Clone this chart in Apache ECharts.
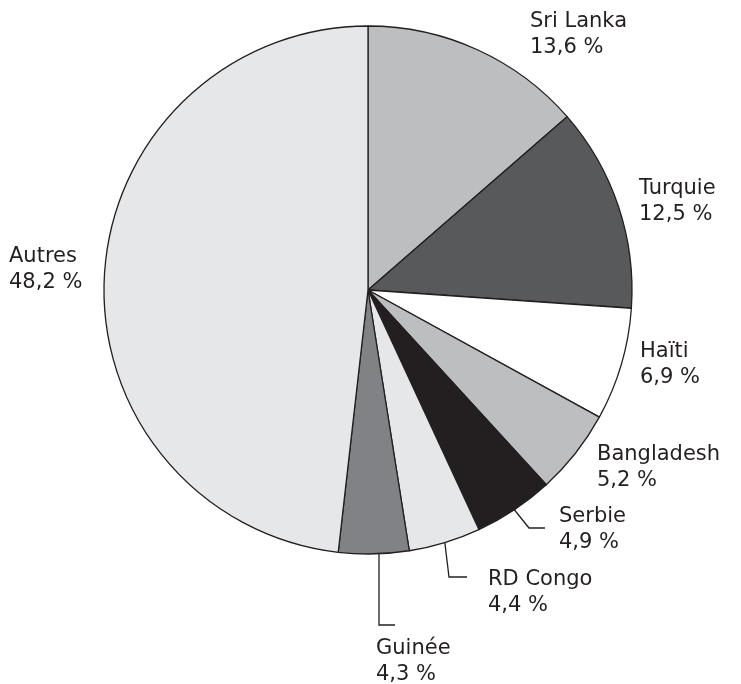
<!DOCTYPE html>
<html>
<head>
<meta charset="utf-8">
<script src="https://cdn.jsdelivr.net/npm/echarts@6/dist/echarts.min.js"></script>
<style>
html,body{margin:0;padding:0;background:#fff;}
#chart{width:741px;height:684px;}
</style>
</head>
<body>
<div id="chart"></div>
<script>
var categories = ['Sri Lanka', 'Turquie', 'Haïti', 'Bangladesh', 'Serbie', 'RD Congo', 'Guinée', 'Autres'];
var shares = [13.6, 12.5, 6.9, 5.2, 4.9, 4.4, 4.3, 48.2];
var sliceColors = ['#bcbec0', '#58595b', '#ffffff', '#bcbec0', '#231f20', '#e6e7e8', '#808285', '#e6e7e8'];

// label placement (layout only): [left x, top y, elbow, line end]
var labelPlace = [
  {x: 530, y: 9},
  {x: 639, y: 176},
  {x: 640, y: 339},
  {x: 597, y: 442},
  {x: 559, y: 504, elbow: [529, 528], end: [545, 528]},
  {x: 488, y: 567, elbow: [449, 577], end: [467, 577]},
  {x: 376, y: 636, elbow: [379, 625], end: [395, 625], startX: 379},
  {x: 9, y: 244}
];

var data = categories.map(function (c, i) {
  return {name: c, value: shares[i], itemStyle: {color: sliceColors[i]}};
});

var chart = echarts.init(document.getElementById('chart'), null, {renderer: 'canvas'});
chart.setOption({
  animation: false,
  backgroundColor: '#ffffff',
  series: [{
    type: 'pie',
    center: [368, 290],
    radius: [0, 264],
    startAngle: 90,
    clockwise: true,
    avoidLabelOverlap: false,
    data: data,
    itemStyle: {borderColor: '#231f20', borderWidth: 1.3},
    emphasis: {disabled: true},
    label: {
      show: true,
      position: 'outside',
      formatter: function (p) {
        return p.name + '\n' + p.value.toFixed(1).replace('.', ',') + ' %';
      },
      fontFamily: 'DejaVu Sans',
      fontSize: 21,
      lineHeight: 26,
      color: '#231f20',
      align: 'left'
    },
    labelLine: {
      show: true,
      lineStyle: {color: '#231f20', width: 1.3}
    },
    labelLayout: function (params) {
      var pl = labelPlace[params.dataIndex];
      var out = {x: pl.x, y: pl.y, align: 'left', verticalAlign: 'top'};
      if (pl.elbow && params.labelLinePoints) {
        var s = params.labelLinePoints[0];
        var sx = pl.startX !== undefined ? pl.startX : s[0];
        var sy = s[1];
        out.labelLinePoints = [[sx, sy], pl.elbow, pl.end];
      } else {
        out.labelLinePoints = [[0, 0], [0, 0], [0, 0]];
      }
      return out;
    }
  }]
});
</script>
</body>
</html>
